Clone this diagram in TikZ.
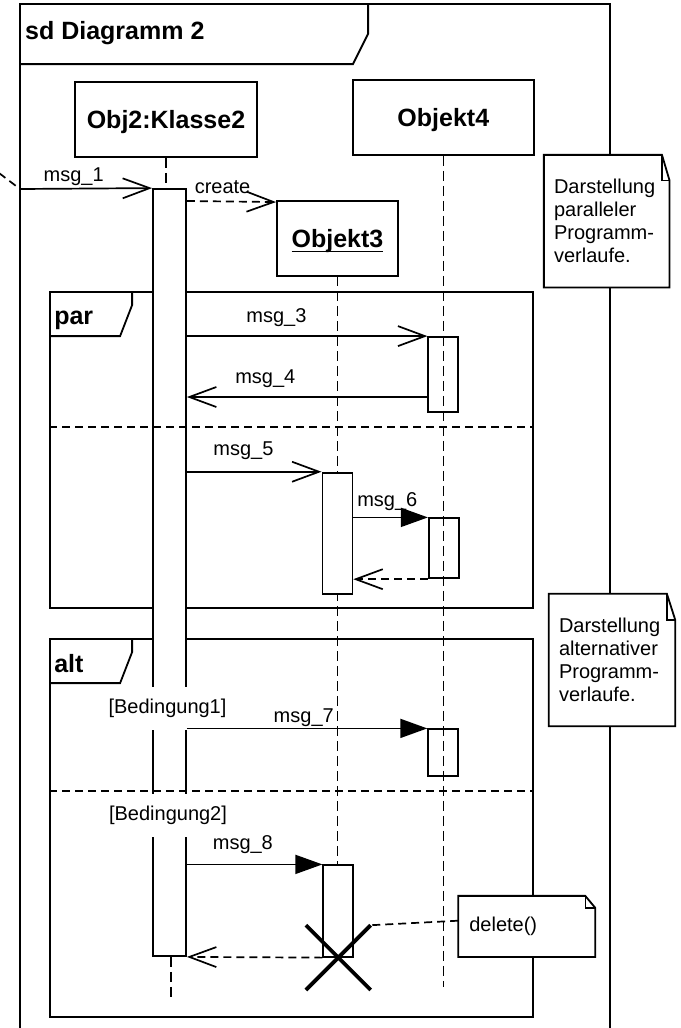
\documentclass[tikz,border=0pt]{standalone}
\usepackage{fontspec}
\setmainfont{Liberation Sans}
\usepackage{tikz}
\usetikzlibrary{arrows.meta, positioning, calc, shapes.misc}

\newcommand{\fsmall}{\fontsize{20}{23}\selectfont}
\newcommand{\fbig}{\fontsize{25}{30}\selectfont\bfseries}
% outline of a note with folded corner
\newcommand{\noteedge}[3]{%
  \draw[line width=1.8pt] (#1.south west) -- (#1.north west) -- ([xshift=-#2]#1.north east)
    -- ([yshift=-#3]#1.north east) -- (#1.south east) -- cycle;
  \draw[line width=1.5pt] ([xshift=-#2]#1.north east) -- ([xshift=-#2, yshift=-#3]#1.north east)
    -- ([yshift=-#3]#1.north east);}

\begin{document}
\begin{tikzpicture}[x=1pt, y=-1pt,
    lifeobj/.style={rectangle, draw, line width=1.9pt, fill=white, font=\fbig,
                    minimum height=75pt, text height=18pt, text depth=0pt},
    actbar/.style={rectangle, draw, line width=1.8pt, fill=white, minimum width=30pt, inner sep=0pt},
    lifeline/.style={line width=1.6pt, dash pattern=on 10pt off 5pt},
    sync/.style={line width=1.7pt, -{Triangle[length=27pt, width=19pt]}},
    async/.style={line width=1.7pt, -{Straight Barb[length=27pt, width=20pt]}},
    reply/.style={async, dash pattern=on 8pt off 5pt},
    frag/.style={rectangle, draw, line width=1.8pt, minimum width=483pt},
    sep/.style={line width=1.7pt, dash pattern=on 8pt off 5pt},
    lbl/.style={font=\fsmall, anchor=base, inner sep=0pt},
    guard/.style={font=\fsmall, fill=white, inner sep=0pt, minimum height=43pt},
    note/.style={rectangle, fill=white, font=\fsmall, align=left, inner xsep=10pt, inner ysep=0pt}
]
\useasboundingbox (0,0) rectangle (680,1028);

% outer frame
\draw[line width=2pt] (20,1040) -- (20,4) -- (609.5,4) -- (609.5,1040);
\draw[line width=2pt] (368,4) -- (368,34) -- (353,64) -- (20,64);
\node[anchor=base west, font=\fbig, inner sep=0pt] (title) at (25,39.5) {sd Diagramm 2};
\coordinate (outside) at (-1,173);
\coordinate (gate) at (20,189);
\draw[sep] (outside) -- (gate);

% fragments
\node[frag, minimum height=316pt] (par) at (291.5,450) {};
\node[frag, minimum height=378pt] (alt) at (291.5,828) {};
\draw[line width=1.8pt] ([xshift=83pt]par.north west) -- ++(0,14) -- ++(-12,31) -- ++(-71,0);
\draw[line width=1.8pt] ([xshift=83pt]alt.north west) -- ++(0,14) -- ++(-12,31) -- ++(-71,0);
\node[anchor=base west, font=\fbig, inner sep=0pt] (partag) at ($(par.north west)+(5,33)$) {par};
\node[anchor=base west, font=\fbig, inner sep=0pt] (alttag) at ($(alt.north west)+(5,34)$) {alt};

% lifeline heads
\node[lifeobj, minimum width=182pt] (obj2) at (166,119.5) {Obj2:Klasse2};
\node[lifeobj, minimum width=181pt] (obj4) at (443.3,117.5) {Objekt4};

% activation bars
\node[actbar, minimum width=33pt, minimum height=767pt] (act2) at (169.5,572.5) {};
\node[actbar, minimum height=75pt] (act4a) at (443.3,374.5) {};
\node[actbar, minimum height=60pt] (act4b) at (443.8,548.3) {};
\node[actbar, minimum height=46.4pt] (act4c) at (443.2,752.5) {};

% lifelines
\draw[lifeline] (obj2.south) -- (obj2.south |- act2.north);
\draw[lifeline] ([xshift=1.5pt]act2.south) -- ++(0,41);
\draw[lifeline] (obj4.south) -- (obj4.south |- 0,987);
\draw[lifeline] (337.5,276) -- (337.5,957);

\node[lifeobj, minimum width=121pt] (obj3) at (337.5,238.5) {\underline{\raisebox{0pt}[\height][2pt]{Objekt3}}};
\node[actbar, minimum height=121.3pt] (act3a) at (337.4,533.3) {};
\node[actbar, minimum height=91.4pt] (act3b) at (338.3,911) {};

% separators
\draw[sep] (par.west |- 0,426.7) -- (par.east |- 0,426.7);
\draw[sep] (alt.west |- 0,790.7) -- (alt.east |- 0,790.7);

% guards
\node[guard] (guard1) at (167.5,708.5) {[Bedingung1]};
\node[guard] (guard2) at (168,815) {[Bedingung2]};

% messages
\draw[async] (gate) -- node[lbl, pos=0.406, yshift=7pt] {msg\_1} (act2.north west);
\draw[reply] (act2.east |- 0,201) -- node[lbl, pos=0.4, yshift=8pt] {create} ([yshift=-2pt]obj3.north west);
\draw[async] (act2.east |- act4a.north) -- node[lbl, pos=0.372, yshift=14pt] {msg\_3} (act4a.north west);
\draw[async] (act4a.west |- 0,397) -- node[lbl, pos=0.674, yshift=14pt] {msg\_4} (act2.east |- 0,397);
\draw[async] (act2.east |- act3a.north) -- node[lbl, pos=0.42, yshift=16pt] {msg\_5} (act3a.north west);
\draw[sync] (act3a.east |- act4b.north) -- node[lbl, pos=0.456, yshift=11pt] {msg\_6} (act4b.north west);
\draw[reply] (act4b.south west) -- (act3a.east |- act4b.south);
\draw[sync] (act2.east |- act4c.north) -- node[lbl, pos=0.486, yshift=6pt] {msg\_7} (act4c.north west);
\draw[sync] (act2.east |- act3b.north) -- node[lbl, pos=0.413, yshift=15pt] {msg\_8} (act3b.north west);
\draw[reply] (act3b.south west) -- (act2.south east);

% destruction
\node[draw, cross out, line width=3.8pt, minimum size=61pt, inner sep=0pt] (kill) at (act3b.south) {};

% notes
\node[note, minimum height=132.3pt, text width=105.3pt] (note1) at (606.7,221.2)
  {Darstellung\\paralleler\\Programm-\\verlaufe.};
\noteedge{note1}{7.6pt}{25.7pt}
\node[note, minimum height=132pt, text width=106pt] (note2) at (612,660)
  {Darstellung\\alternativer\\Programm-\\verlaufe.};
\noteedge{note2}{8.3pt}{26pt}
\node[note, inner xsep=11pt, minimum height=60.7pt, text width=114.7pt] (delnote) at (526.7,926.4) {delete()};
\noteedge{delnote}{10pt}{12pt}
\draw[sep] (delnote.west |- 0,920.7) -- (kill.north east);
\end{tikzpicture}
\end{document}
